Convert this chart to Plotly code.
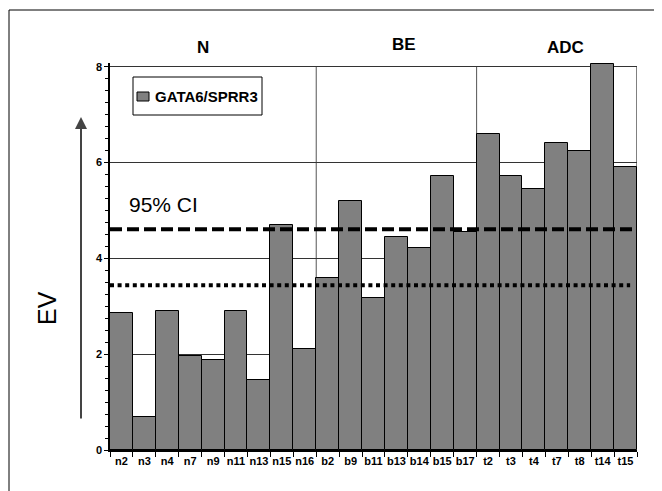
import plotly.graph_objects as go

categories = ["n2", "n3", "n4", "n7", "n9", "n11", "n13", "n15", "n16",
              "b2", "b9", "b11", "b13", "b14", "b15", "b17",
              "t2", "t3", "t4", "t7", "t8", "t14", "t15"]
ev_values = [2.86, 0.68, 2.90, 1.97, 1.87, 2.91, 1.46, 4.69, 2.10,
             3.60, 5.19, 3.17, 4.44, 4.21, 5.73, 4.55,
             6.59, 5.72, 5.44, 6.40, 6.24, 8.05, 5.91]
series_name = "GATA6/SPRR3"
ci_upper = 4.61
ci_lower = 3.44
groups = ["N", "BE", "ADC"]
y_ticks = [0, 2, 4, 6, 8]

FONT = "Arial, Liberation Sans, sans-serif"
OFF = 8  # page body margin offset
W, H = 662 - OFF, 491 - OFF
L, R, T, B = 110 - OFF, 25, 63 - OFF, 41
pw = W - L - R
ph = H - T - B

def px_x(px):
    return (px - OFF - L) / pw

def px_y(py):
    return (H - B - (py - OFF)) / ph

fig = go.Figure()
fig.add_trace(go.Bar(
    x=categories, y=ev_values, name=series_name,
    marker=dict(color="#808080", line=dict(color="black", width=1)),
    showlegend=False,
))

n = len(categories)
shapes = []
# plot frame (right edge)
shapes.append(dict(type="line", xref="x", yref="y", x0=n - 0.5, x1=n - 0.5, y0=0, y1=8,
                   line=dict(color="black", width=1), layer="below"))
# group separators
for b in [8.5, 15.5]:
    shapes.append(dict(type="line", xref="x", yref="y", x0=b, x1=b, y0=0, y1=8,
                       line=dict(color="#555555", width=1), layer="below"))
# CI lines
shapes.append(dict(type="line", xref="x", yref="y", x0=-0.5, x1=n - 0.5, y0=ci_upper, y1=ci_upper,
                   line=dict(color="black", width=4, dash="12px,5px"), layer="above"))
shapes.append(dict(type="line", xref="x", yref="y", x0=-0.5, x1=n - 0.8, y0=ci_lower, y1=ci_lower,
                   line=dict(color="black", width=4, dash="4px,3.6px"), layer="above"))
# legend box
shapes.append(dict(type="rect", xref="paper", yref="paper",
                   x0=px_x(133), x1=px_x(262), y0=px_y(115), y1=px_y(77),
                   line=dict(color="black", width=1), fillcolor="white", layer="above"))
shapes.append(dict(type="rect", xref="paper", yref="paper",
                   x0=px_x(137), x1=px_x(149), y0=px_y(101), y1=px_y(92),
                   line=dict(color="black", width=1), fillcolor="#808080", layer="above"))
# outer frame (top and left edges only visible)
shapes.append(dict(type="line", xref="paper", yref="paper",
                   x0=px_x(9), x1=px_x(662), y0=px_y(10), y1=px_y(10),
                   line=dict(color="black", width=1), layer="below"))
shapes.append(dict(type="line", xref="paper", yref="paper",
                   x0=px_x(9), x1=px_x(9), y0=px_y(10), y1=px_y(491),
                   line=dict(color="black", width=1), layer="below"))

annotations = [
    dict(text=series_name, xref="paper", yref="paper", x=px_x(153), y=px_y(96.5),
         xanchor="left", yanchor="middle", showarrow=False,
         font=dict(family=FONT, size=15, color="black", weight="bold")),
    dict(text="95% CI", xref="paper", yref="paper", x=px_x(127), y=px_y(204),
         xanchor="left", yanchor="middle", showarrow=False,
         font=dict(family=FONT, size=21, color="black")),
    dict(text="EV", xref="paper", yref="paper", x=px_x(47), y=px_y(308),
         xanchor="center", yanchor="middle", showarrow=False, textangle=-90,
         font=dict(family=FONT, size=25, color="black")),
    dict(text="", xref="paper", yref="paper", x=px_x(81), y=px_y(117),
         ax=0, ay=303, axref="pixel", ayref="pixel", showarrow=True,
         arrowhead=2, arrowsize=1.2, arrowwidth=2, arrowcolor="#444444"),
]
for g, xc, yc in zip(groups, [203, 404, 565], [47, 44, 48]):
    annotations.append(dict(text=g, xref="paper", yref="paper", x=px_x(xc), y=px_y(yc),
                            xanchor="center", yanchor="middle", showarrow=False,
                            font=dict(family=FONT, size=17, color="black", weight="bold")))

fig.update_layout(
    width=W, height=H,
    margin=dict(l=L, r=R, t=T, b=B, autoexpand=False),
    paper_bgcolor="white", plot_bgcolor="white",
    bargap=0,
    shapes=shapes, annotations=annotations,
    font=dict(family=FONT, color="black"),
    xaxis=dict(
        type="category", tickson="boundaries", ticks="outside", ticklen=5,
        tickcolor="black", showline=True, linecolor="black", linewidth=1.5,
        showgrid=False, range=[-0.5, n - 0.5], tickangle=0, automargin=False,
        tickfont=dict(family=FONT, size=11, color="black", weight="bold"),
    ),
    yaxis=dict(
        range=[0, 8.08], tickvals=y_ticks, ticks="outside", ticklen=4,
        tickcolor="black", showline=True, linecolor="black", linewidth=1.5,
        showgrid=True, gridcolor="#333333", gridwidth=1, zeroline=False,
        automargin=False,
        minor=dict(dtick=0.25, ticks="outside", ticklen=3, tickcolor="black", showgrid=False),
        tickfont=dict(family=FONT, size=11, color="black", weight="bold"),
    ),
)

fig.write_html("out.html")
